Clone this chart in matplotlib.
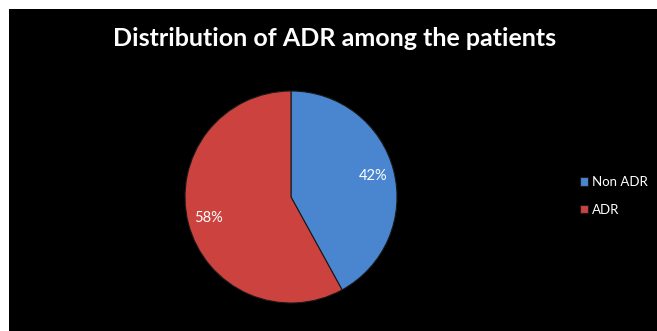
import matplotlib
matplotlib.use('Agg')
import matplotlib.pyplot as plt
from matplotlib.patches import Rectangle

labels = ['Non ADR', 'ADR']
shares = [42, 58]
colors = ['#4a86d0', '#cc423e']

plt.rcParams['font.family'] = ['Lato', 'DejaVu Sans']

fig = plt.figure(figsize=(6.57, 3.31), dpi=100)
fig.patch.set_facecolor('white')
# black panel, white strip at left and top
fig.patches.append(Rectangle((9 / 657, 0), 648 / 657, 322 / 331,
                             transform=fig.transFigure, facecolor='black',
                             edgecolor='none', zorder=-10))

fig.text(335 / 657, 1 - 46 / 331, 'Distribution of ADR among the patients',
         color='white', fontsize=18, fontweight='bold', ha='center',
         va='baseline')

# pie centred at (291, 197) px, radius ~106 px
r = 106
ax = fig.add_axes([(291 - r) / 657, 1 - (197 + r) / 331, 2 * r / 657, 2 * r / 331])
ax.set_zorder(2)
ax.set_facecolor('none')
wedges, texts, autotexts = ax.pie(
    shares, colors=colors, startangle=90, counterclock=False,
    autopct='%d%%', pctdistance=0.8, radius=1,
    wedgeprops=dict(edgecolor='#1a1a1a', linewidth=0.8),
    textprops=dict(color='white', fontsize=10.5))
ax.set_xlim(-1, 1)
ax.set_ylim(-1, 1)
ax.set_aspect('equal')
ax.axis('off')

leg = fig.legend(wedges, labels, loc='center left',
                 bbox_to_anchor=(568 / 657, 1 - 196 / 331), frameon=False,
                 labelcolor='white', fontsize=9.5, handlelength=0.6,
                 handleheight=0.6, handletextpad=0.3, labelspacing=1.2)

fig.savefig('out.png', dpi=100, facecolor=fig.get_facecolor())
